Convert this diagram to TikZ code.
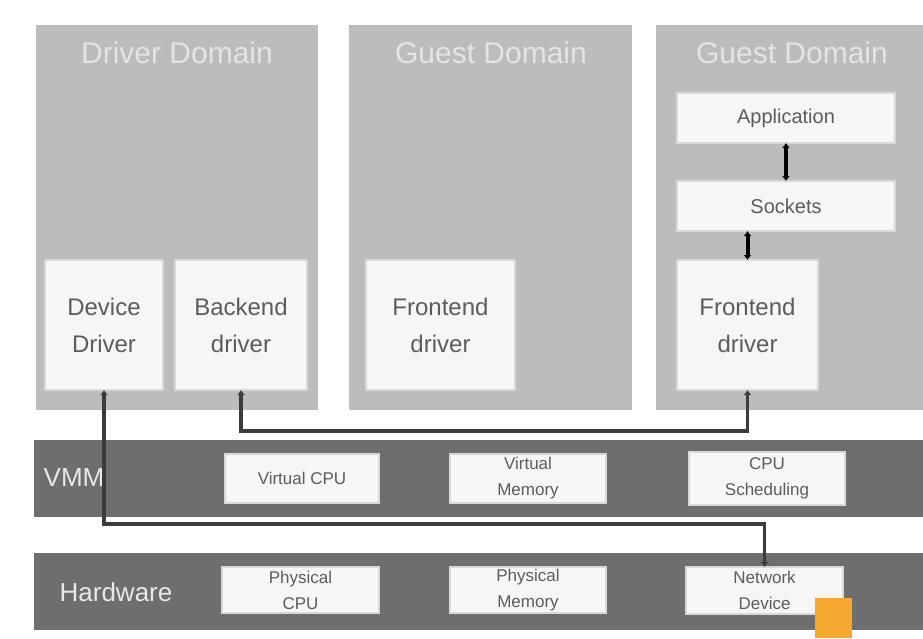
\documentclass[tikz,border=0pt]{standalone}
\usepackage{fontspec}
\setmainfont{Liberation Sans}
\usetikzlibrary{arrows.meta}
\definecolor{domcol}{HTML}{BCBCBC}
\definecolor{barcol}{HTML}{6E6E6E}
\definecolor{boxcol}{HTML}{F6F6F6}
\definecolor{boxline}{HTML}{D8D8D8}
\definecolor{titlecol}{HTML}{E4E4E4}
\definecolor{barlabel}{HTML}{E8E8E8}
\definecolor{intext}{HTML}{5C5C5C}
\definecolor{linecol}{HTML}{3C3C3C}
\definecolor{orangec}{HTML}{F5A830}
\tikzset{
  dombox/.style={fill=domcol, draw=none, inner sep=0pt, outer sep=0pt, anchor=north west},
  barbox/.style={fill=barcol, draw=none, inner sep=0pt, outer sep=0pt, anchor=north west},
  wbox/.style={fill=boxcol, draw=boxline, line width=1.2pt, inner sep=0pt, outer sep=0pt, anchor=north west, align=center, text=intext},
  dtitle/.style={text=titlecol, font=\fontsize{30}{32}\selectfont},
  barlbl/.style={text=barlabel, font=\fontsize{26}{30}\selectfont},
  drvtext/.style={font=\fontsize{24}{37}\selectfont},
  apptext/.style={font=\fontsize{20}{24}\selectfont},
  smalltext/.style={font=\fontsize{17}{26}\selectfont},
  conn/.style={draw=linecol, line width=3.5pt, {Latex[length=5pt,width=8pt]}-{Latex[length=5pt,width=8pt]}},
  stack/.style={draw=black, line width=4pt, {Latex[length=5pt,width=8pt]}-{Latex[length=5pt,width=8pt]}}
}
\begin{document}
\begin{tikzpicture}[x=1pt,y=-1pt]
\useasboundingbox (0,0) rectangle (923,638);
\fill[white] (0,0) rectangle (923,638);
% domains
\node[dombox, minimum width=282pt, minimum height=385pt] (d1) at (36,25) {};
\node[dombox, minimum width=283pt, minimum height=385pt] (d2) at (349,25) {};
\node[dombox, minimum width=267pt, minimum height=385pt] (d3) at (656,25) {};
\node[dtitle] (t1) at (177,53) {Driver Domain};
\node[dtitle] (t2) at (491,53) {Guest Domain};
\node[dtitle] (t3) at (792,53) {Guest Domain};
% bars
\node[barbox, minimum width=889pt, minimum height=77pt] (vmm) at (34,440) {};
\node[barbox, minimum width=889pt, minimum height=77pt] (hw) at (34,553) {};
\node[barlbl] (vmml) at (74,478) {VMM};
\node[barlbl] (hwl) at (116,592) {Hardware};
% domain inner boxes
\node[wbox, drvtext, minimum width=118pt, minimum height=130pt] (dd) at (45,260) {Device\\Driver};
\node[wbox, drvtext, minimum width=132pt, minimum height=130pt] (bd) at (175,260) {Backend\\driver};
\node[wbox, drvtext, minimum width=149pt, minimum height=130pt] (f2) at (366,260) {Frontend\\driver};
\node[wbox, drvtext, minimum width=141pt, minimum height=130pt] (f3) at (677,260) {Frontend\\driver};
\node[wbox, apptext, minimum width=218pt, minimum height=50pt] (app) at (677,93) {Application};
\node[wbox, apptext, minimum width=218pt, minimum height=50pt] (sk) at (677,181) {Sockets};
% VMM boxes
\node[wbox, smalltext, minimum width=154pt, minimum height=49pt] (vcpu) at (225,454) {Virtual CPU};
\node[wbox, smalltext, minimum width=156pt, minimum height=49pt] (vmem) at (450,454) {Virtual\\Memory};
\node[wbox, smalltext, minimum width=156pt, minimum height=53pt] (sched) at (689,452) {CPU\\Scheduling};
% hardware boxes
\node[wbox, smalltext, minimum width=157pt, minimum height=46pt] (pcpu) at (222,567) {Physical\\CPU};
\node[wbox, smalltext, minimum width=156pt, minimum height=46pt] (pmem) at (450,567) {Physical\\Memory};
\node[wbox, smalltext, minimum width=157pt, minimum height=47pt] (nd) at (686,567) {Network\\Device};
% connectors
\coordinate (j1) at (0,524);
\coordinate (j2) at (0,431);
\draw[conn] (dd.south) -- (dd.south |- j1) -- (nd.north |- j1) -- (nd.north);
\draw[conn] (bd.south) -- (bd.south |- j2) -- (f3.south |- j2) -- (f3.south);
\draw[stack] (app.south) -- (sk.north);
\draw[stack] (f3.north |- sk.south) -- (f3.north);
% orange mark
\fill[orangec] (815,598) rectangle (852,638);
\end{tikzpicture}
\end{document}
